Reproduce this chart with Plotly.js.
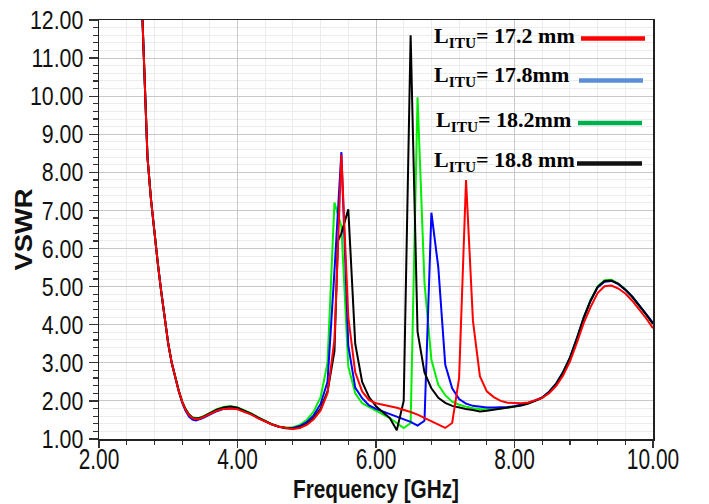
<!DOCTYPE html>
<html>
<head>
<meta charset="utf-8">
<script src="https://cdn.plot.ly/plotly-3.0.1.min.js"></script>
<style>html,body{margin:0;padding:0;background:#fff;}#chart{width:709px;height:504px;}</style>
</head>
<body>
<div id="chart"></div>
<script>
// Frequency samples (GHz)
const freq = [2.60,2.65,2.70,2.75,2.80,2.85,2.90,2.95,3.00,3.05,3.10,3.15,3.20,3.25,3.30,3.35,3.40,3.45,3.50,
  3.60,3.70,3.80,3.90,4.00,4.10,4.20,4.30,4.40,4.50,4.60,4.70,4.80,4.90,5.00,5.10,5.20,5.30,5.40,5.45,
  5.50,5.60,5.70,5.80,5.90,6.00,6.10,6.20,6.30,6.40,6.50,6.60,6.70,6.80,6.90,7.00,7.10,7.20,7.30,7.40,
  7.50,7.60,7.70,7.80,7.90,8.00,8.10,8.20,8.30,8.40,8.50,8.60,8.70,8.80,8.90,9.00,9.10,9.20,9.30,9.40,
  9.50,9.60,9.70,9.80,9.90,10.00];

// VSWR, L_ITU = 17.2 mm (red)
const vswr172 = [13.4,10.7,8.4,7.3,6.4,5.6,4.85,4.13,3.5,3.0,2.6,2.27,1.98,1.77,1.63,1.55,1.52,1.53,1.57,
  1.66,1.74,1.79,1.80,1.78,1.72,1.64,1.54,1.45,1.38,1.32,1.28,1.26,1.29,1.37,1.52,1.75,2.2,3.6,6.0,
  8.46,4.2,2.75,2.25,2.02,1.94,1.89,1.86,1.82,1.77,1.71,1.64,1.55,1.45,1.36,1.29,1.42,2.6,7.8,4.1,
  2.65,2.25,2.1,2.0,1.95,1.94,1.94,1.96,2.01,2.08,2.2,2.39,2.66,3.03,3.52,4.05,4.47,4.83,5.01,5.03,
  4.95,4.82,4.63,4.41,4.17,3.91];

// VSWR, L_ITU = 17.8 mm (blue)
const vswr178 = [13.4,10.7,8.4,7.3,6.4,5.6,4.85,4.13,3.5,3.0,2.6,2.26,1.96,1.74,1.59,1.51,1.49,1.51,1.55,
  1.64,1.73,1.79,1.81,1.79,1.73,1.65,1.55,1.46,1.38,1.32,1.29,1.29,1.34,1.44,1.62,1.92,2.5,5.4,7.0,
  8.53,3.45,2.35,2.07,1.88,1.79,1.72,1.65,1.58,1.51,1.45,1.35,1.48,6.94,5.5,2.95,2.33,2.05,1.93,1.87,
  1.85,1.83,1.83,1.83,1.84,1.86,1.9,1.95,2.01,2.09,2.24,2.45,2.75,3.13,3.64,4.19,4.64,4.98,5.13,5.15,
  5.07,4.92,4.74,4.52,4.29,4.05];

// VSWR, L_ITU = 18.2 mm (green)
const vswr182 = [13.4,10.7,8.4,7.3,6.4,5.6,4.85,4.13,3.5,3.0,2.6,2.28,1.99,1.79,1.65,1.57,1.55,1.56,1.59,
  1.69,1.78,1.84,1.86,1.83,1.76,1.67,1.57,1.47,1.39,1.33,1.30,1.31,1.37,1.50,1.72,2.1,3.0,7.21,6.9,
  6.58,2.9,2.2,1.94,1.84,1.76,1.66,1.55,1.42,1.29,1.42,9.97,5.1,3.08,2.42,2.15,1.98,1.9,1.85,1.81,
  1.79,1.78,1.79,1.8,1.82,1.85,1.89,1.94,2.01,2.09,2.24,2.45,2.76,3.14,3.65,4.2,4.66,5.01,5.17,5.18,
  5.08,4.93,4.74,4.52,4.28,4.03];

// VSWR, L_ITU = 18.8 mm (black)
const vswr188 = [13.4,10.7,8.4,7.3,6.4,5.6,4.85,4.13,3.5,3.0,2.6,2.28,1.99,1.78,1.64,1.56,1.54,1.55,1.58,
  1.68,1.77,1.83,1.85,1.82,1.75,1.66,1.56,1.46,1.38,1.32,1.28,1.27,1.31,1.39,1.55,1.8,2.25,3.3,6.2,
  6.4,7.03,3.5,2.5,2.1,1.86,1.7,1.55,1.23,2.0,11.6,3.82,2.75,2.33,2.08,1.95,1.87,1.82,1.79,1.76,
  1.72,1.74,1.77,1.79,1.81,1.84,1.88,1.93,2.0,2.08,2.23,2.44,2.74,3.12,3.62,4.18,4.63,4.99,5.15,5.16,
  5.07,4.92,4.73,4.51,4.27,4.02];

const seriesNames = ["17.2 mm", "17.8mm", "18.2mm", "18.8 mm"];
const lineColors = ["#ff0000", "#0000ff", "#00ee00", "#000000"];
const legendColors = ["#ff0000", "#5b8ed6", "#00b050", "#111111"];
const xTickVals = [2, 4, 6, 8, 10];
const yTickVals = [1,2,3,4,5,6,7,8,9,10,11,12];

const M = {l: 99, r: 56, t: 20, b: 65};
const FW = 709, FH = 504;
const PW = FW - M.l - M.r, PH = FH - M.t - M.b;
const px = x => (x - M.l) / PW;
const py = y => (FH - M.b - y) / PH;

const allSeries = [vswr172, vswr178, vswr182, vswr188];
const drawOrder = [2, 1, 3, 0];
const traces = drawOrder.map(i => ({
  type: "scatter", mode: "lines", x: freq, y: allSeries[i],
  name: "L_ITU= " + seriesNames[i],
  line: {color: lineColors[i], width: 2},
  showlegend: false, hoverinfo: "skip"
}));

const sans = "Liberation Sans, Arial, sans-serif";

// Legend (text + coloured sample lines), laid out in paper space
const legendTextX = [432, 432, 434, 432];
const legendTextY = [37, 76, 121, 161];
const legendLineX0 = [581, 579, 578, 577];
const legendLineX1 = [645, 643, 642, 642];
const legendLineY = [38.5, 80.5, 123, 163.5];

const annotations = seriesNames.map((s, i) => ({
  xref: "paper", yref: "paper", x: px(legendTextX[i]), y: py(legendTextY[i]),
  xanchor: "left", yanchor: "middle", showarrow: false,
  text: "L<sub>ITU</sub>= " + s,
  font: {family: "Liberation Serif, Times New Roman, serif", size: 22, color: "#000", weight: "bold"}
}));
const shapes = seriesNames.map((s, i) => ({
  type: "line", xref: "paper", yref: "paper",
  x0: px(legendLineX0[i]), x1: px(legendLineX1[i]), y0: py(legendLineY[i]), y1: py(legendLineY[i]),
  line: {color: legendColors[i], width: 4.5}
}));

const layout = {
  width: FW, height: FH,
  margin: M,
  paper_bgcolor: "#fff", plot_bgcolor: "#fff",
  showlegend: false,
  xaxis: {
    range: [2, 10], tickvals: xTickVals, tickformat: ".2f",
    ticks: "outside", ticklen: 7, tickwidth: 1.2, tickcolor: "#333",
    ticklabelstandoff: -13,
    showgrid: true, gridcolor: "#c8c8c8", gridwidth: 1,
    minor: {dtick: 0.4, tick0: 2, ticks: "outside", ticklen: 4, tickcolor: "#333", showgrid: true, gridcolor: "#ececec", gridwidth: 1},
    showline: true, linecolor: "#222", linewidth: 1.5, mirror: true,
    zeroline: false,
    tickfont: {family: sans, size: 29, color: "#111"},
    title: {text: "Frequency [GHz]", font: {family: sans, size: 25, color: "#111", weight: "bold"}, standoff: 3}
  },
  yaxis: {
    range: [1, 12], tickvals: yTickVals, tickformat: ".2f",
    ticks: "outside", ticklen: 9, tickwidth: 1.2, tickcolor: "#333",
    showgrid: true, gridcolor: "#c8c8c8", gridwidth: 1,
    minor: {dtick: 0.2, tick0: 1, ticks: "outside", ticklen: 5, tickcolor: "#333", showgrid: true, gridcolor: "#ececec", gridwidth: 1},
    showline: true, linecolor: "#222", linewidth: 1.5, mirror: true,
    zeroline: false,
    tickfont: {family: sans, size: 26, color: "#111"},
    title: {text: "VSWR", font: {family: sans, size: 23, color: "#111", weight: "bold"}, standoff: 2}
  },
  annotations: annotations,
  shapes: shapes
};

// Condense text horizontally (the original uses a narrow face)
function squeeze(selector, factor, fixed) {
  document.querySelectorAll(selector).forEach(t => {
    const w = t.getComputedTextLength();
    if (!w) return;
    t.setAttribute("textLength", fixed ? fixed : w * factor);
    t.setAttribute("lengthAdjust", "spacingAndGlyphs");
  });
}

Plotly.newPlot("chart", traces, layout, {staticPlot: true, displayModeBar: false}).then(() => {
  squeeze("#chart .xtick text", 0.72);
  squeeze("#chart .ytick text", 0.82);
  squeeze("#chart .g-xtitle text", 0.83);
  squeeze("#chart .g-ytitle text", 1, 82);
  // place the rotated y title next to the tick labels, as in the original
  const t = document.querySelector("#chart .g-ytitle text");
  if (t) {
    const r = t.getBoundingClientRect();
    const host = document.getElementById("chart").getBoundingClientRect();
    const cx = r.left - host.left + r.width / 2;
    const dx = 23.5 - cx;
    t.setAttribute("transform", "translate(" + dx + ",0) " + (t.getAttribute("transform") || ""));
  }
});
</script>
</body>
</html>
